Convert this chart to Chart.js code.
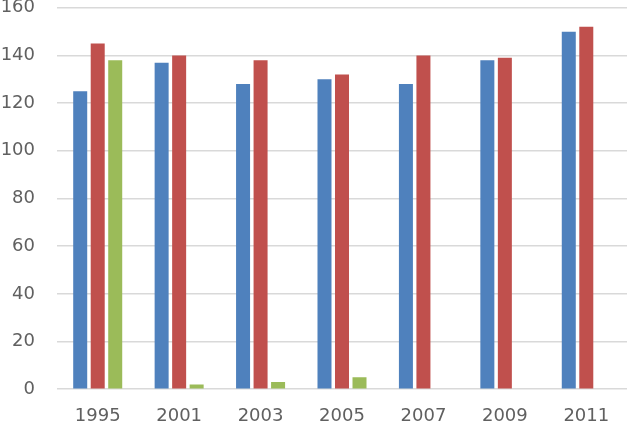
<!DOCTYPE html>
<html>
<head>
<meta charset="utf-8">
<script src="https://cdn.jsdelivr.net/npm/chart.js@4"></script>
<style>
  html, body { margin: 0; padding: 0; background: #fff; overflow: hidden; }
  #wrap { width: 627px; height: 422px; overflow: hidden; position: relative; }
  #barChart { position: absolute; left: 0; top: -25px; }
</style>
</head>
<body>
<div id="wrap"><canvas id="barChart" width="627" height="447"></canvas></div>
<script>
const years = ["1995", "2001", "2003", "2005", "2007", "2009", "2011"];
const blueVals = [125, 137, 128, 130, 128, 138, 150];
const redVals = [145, 140, 138, 132, 140, 139, 152];
const greenVals = [138, 2, 3, 5, null, null, null];
const yTicks = [0, 20, 40, 60, 80, 100, 120, 140, 160];

const BARCHART = document.getElementById("barChart");
let barChart = new Chart(BARCHART, {
	type: 'bar',
	data: {
		labels: years,
		datasets: [
			{
				label: "Series 1",
				backgroundColor: "#4F81BD",
				data: blueVals,
			}, {
				label: "Series 2",
				backgroundColor: "#C0504D",
				data: redVals,
			}, {
				label: "Series 3",
				backgroundColor: "#9BBB59",
				data: greenVals,
			}
		]
	},
	options: {
		responsive: false,
		animation: false,
		layout: { padding: 0 },
		datasets: {
			bar: { categoryPercentage: 0.645, barPercentage: 0.8 }
		},
		plugins: {
			legend: { display: false },
			tooltip: { enabled: false }
		},
		scales: {
			x: {
				grid: { display: false },
				border: { display: false },
				ticks: {
					color: "#606060",
					font: { family: "DejaVu Sans", size: 18 },
					padding: 8,
					maxRotation: 0
				},
				afterFit: function (scale) { scale.height = 32; }
			},
			y: {
				min: 0,
				max: 160,
				afterBuildTicks: function (scale) {
					scale.ticks = yTicks.map(v => ({ value: v }));
				},
				grid: { color: "#D9D9D9", lineWidth: 1.5, drawTicks: false },
				border: { display: false },
				ticks: {
					color: "#606060",
					font: { family: "DejaVu Sans", size: 18 },
					padding: 22
				},
				afterFit: function (scale) { scale.width = 57; }
			}
		}
	}
});
</script>
</body>
</html>
